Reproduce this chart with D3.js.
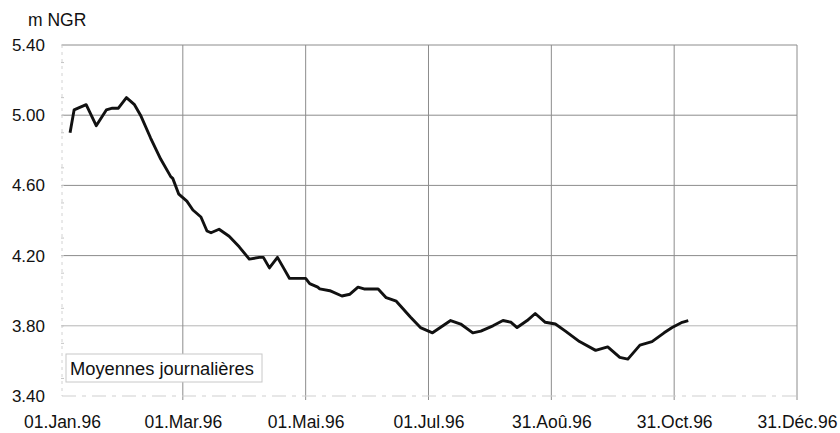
<!DOCTYPE html>
<html>
<head>
<meta charset="utf-8">
<script src="https://cdn.jsdelivr.net/npm/d3@7"></script>
<style>
  body { margin: 0; background: #fff; }
  svg text { font-family: "Liberation Sans", Arial, sans-serif; fill: #111; }
</style>
</head>
<body>
<div id="chart"></div>
<script>
// daily averages, day offset from 01.Jan.96 and level in m NGR
const dayOffsets = [4, 6, 8, 12, 17, 22, 25, 28, 32, 36, 39, 44, 49, 54, 55, 58, 60, 62, 65, 69,
  72, 74, 78, 83, 88, 93, 98, 100, 103, 107, 110, 113, 117, 121, 123, 127, 128, 133, 139, 143,
  147, 150, 157, 161, 166, 173, 178, 184, 193, 198, 204, 208, 214, 219, 223, 226, 231, 235, 240,
  245, 250, 257, 265, 271, 277, 281, 287, 293, 299, 303, 308, 311];
const levels = [4.90, 5.03, 5.04, 5.06, 4.94, 5.03, 5.04, 5.04, 5.10, 5.06, 5.00, 4.87, 4.75, 4.65, 4.64, 4.55, 4.53, 4.51, 4.46, 4.42,
  4.34, 4.33, 4.35, 4.31, 4.25, 4.18, 4.19, 4.19, 4.13, 4.19, 4.13, 4.07, 4.07, 4.07, 4.04, 4.02, 4.01, 4.00, 3.97, 3.98,
  4.02, 4.01, 4.01, 3.96, 3.94, 3.85, 3.79, 3.76, 3.83, 3.81, 3.76, 3.77, 3.80, 3.83, 3.82, 3.79, 3.83, 3.87, 3.82,
  3.81, 3.77, 3.71, 3.66, 3.68, 3.62, 3.61, 3.69, 3.71, 3.76, 3.79, 3.82, 3.83];

const xTickDates = ["1996-01-01", "1996-03-01", "1996-05-01", "1996-07-01", "1996-08-31", "1996-10-31", "1996-12-31"];
const xTickLabels = ["01.Jan.96", "01.Mar.96", "01.Mai.96", "01.Jul.96", "31.Aoû.96", "31.Oct.96", "31.Déc.96"];
const yTicks = [3.40, 3.80, 4.20, 4.60, 5.00, 5.40];

const width = 840, height = 433;
const margin = {top: 45, right: 43, bottom: 37, left: 62};

const parse = d3.timeParse("%Y-%m-%d");
const start = parse("1996-01-01");
const tickDates = xTickDates.map(parse);

const data = dayOffsets.map((d, i) => ({date: d3.timeDay.offset(start, d), value: levels[i]}));

const x = d3.scaleTime()
  .domain([start, parse("1996-12-31")])
  .range([margin.left, width - margin.right]);

const y = d3.scaleLinear()
  .domain([3.4, 5.4])
  .range([height - margin.bottom, margin.top]);

const svg = d3.select("#chart").append("svg")
  .attr("width", width)
  .attr("height", height);

// horizontal gridlines
svg.append("g")
  .selectAll("line")
  .data(yTicks.filter(v => v > 3.4))
  .join("line")
  .attr("x1", x.range()[0])
  .attr("x2", x.range()[1])
  .attr("y1", d => y(d))
  .attr("y2", d => y(d))
  .attr("stroke", d => d === 3.8 ? "#b5b5b5" : "#8c8c8c")
  .attr("stroke-width", 1);

// vertical gridlines
svg.append("g")
  .selectAll("line")
  .data(tickDates.slice(1))
  .join("line")
  .attr("x1", d => x(d))
  .attr("x2", d => x(d))
  .attr("y1", y.range()[1])
  .attr("y2", y.range()[0] + 4)
  .attr("stroke", "#8c8c8c")
  .attr("stroke-width", 1);

// faint left and bottom axis lines
svg.append("line")
  .attr("x1", x.range()[0]).attr("x2", x.range()[0])
  .attr("y1", y.range()[1]).attr("y2", y.range()[0])
  .attr("stroke", "#d2d2d2")
  .attr("stroke-dasharray", "3,4");

svg.append("line")
  .attr("x1", x.range()[0]).attr("x2", x.range()[1])
  .attr("y1", y.range()[0]).attr("y2", y.range()[0])
  .attr("stroke", "#cfcfcf")
  .attr("stroke-dasharray", "14,6,4,6");

// minor ticks on the left axis
svg.append("g")
  .selectAll("line")
  .data(d3.range(3.5, 5.4, 0.1).filter(v => Math.abs(v * 10 % 4) > 0.01))
  .join("line")
  .attr("x1", x.range()[0] - 1)
  .attr("x2", x.range()[0] + 2)
  .attr("y1", d => y(d))
  .attr("y2", d => y(d))
  .attr("stroke", "#c4c4c4");

// y axis labels
const yAxis = d3.axisLeft(y)
  .tickValues(yTicks)
  .tickFormat(d3.format(".2f"))
  .tickSize(0)
  .tickPadding(17);

svg.append("g")
  .attr("transform", `translate(${margin.left},0)`)
  .call(yAxis)
  .call(g => g.select(".domain").remove())
  .call(g => g.selectAll("text")
    .style("font-family", '"Liberation Sans", Arial, sans-serif')
    .style("font-size", "17px")
    .attr("fill", "#111"));

// x axis labels
const xAxis = d3.axisBottom(x)
  .tickValues(tickDates)
  .tickFormat((d, i) => xTickLabels[i])
  .tickSize(0)
  .tickPadding(20);

svg.append("g")
  .attr("transform", `translate(0,${y.range()[0]})`)
  .call(xAxis)
  .call(g => g.select(".domain").remove())
  .call(g => g.selectAll("text")
    .style("font-family", '"Liberation Sans", Arial, sans-serif')
    .style("font-size", "17.5px")
    .attr("fill", "#111"));

// unit label
svg.append("text")
  .attr("x", 28)
  .attr("y", 26)
  .style("font-size", "17.5px")
  .text("m NGR");

// series
const line = d3.line()
  .x(d => x(d.date))
  .y(d => y(d.value));

svg.append("path")
  .datum(data)
  .attr("fill", "none")
  .attr("stroke", "#111")
  .attr("stroke-width", 2.9)
  .attr("stroke-linejoin", "round")
  .attr("d", line);

// legend box
const legend = svg.append("g").attr("transform", "translate(66,354)");
legend.append("rect")
  .attr("width", 196)
  .attr("height", 28)
  .attr("fill", "#fff")
  .attr("stroke", "#c8c8c8");
legend.append("text")
  .attr("x", 4)
  .attr("y", 21)
  .style("font-size", "18.3px")
  .text("Moyennes journalières");
</script>
</body>
</html>
